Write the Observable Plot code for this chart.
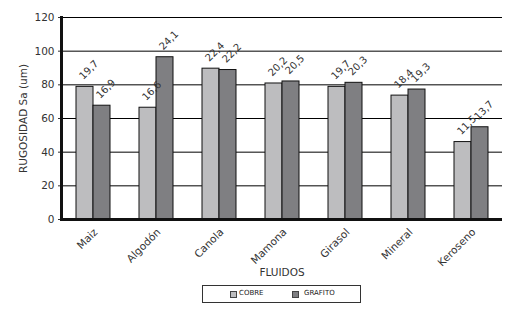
<!DOCTYPE html>
<html><head><meta charset="utf-8">
<script src="https://cdn.jsdelivr.net/npm/d3@7"></script>
<script src="https://cdn.jsdelivr.net/npm/@observablehq/plot@0.6"></script>
<style>
body{margin:0;background:#fff;}
#wrap{position:relative;width:523px;height:315px;background:#fff;}
#legend{position:absolute;left:202px;top:285px;width:157px;height:16px;border:1px solid #333;font-family:"DejaVu Sans",sans-serif;font-size:7px;color:#222;}
.sw{position:absolute;top:5px;width:5px;height:5px;border:1px solid #444;}
.lb{position:absolute;top:3px;}
</style></head>
<body><div id="wrap"></div>
<script>
const fluidos = ["Maiz","Algodón","Canola","Mamona","Girasol","Mineral","Keroseno"];
const series = ["COBRE","GRAFITO"];
const cobre = [78.8, 66.4, 89.6, 80.8, 78.8, 73.6, 46.0];
const grafito = [67.6, 96.4, 88.8, 82.0, 81.2, 77.2, 54.8];
const cobreLabels = ["19,7","16,6","22,4","20,2","19,7","18,4","11,5"];
const grafitoLabels = ["16,9","24,1","22,2","20,5","20,3","19,3","13,7"];
const yTicks = [0,20,40,60,80,100,120];
const colors = ["#bdbdbf","#7f7f82"];

const data = [];
fluidos.forEach((f,i)=>{
  data.push({fluido:f, serie:series[0], valor:cobre[i], label:cobreLabels[i]});
  data.push({fluido:f, serie:series[1], valor:grafito[i], label:grafitoLabels[i]});
});

const chart = Plot.plot({
  width:523, height:282,
  marginLeft:59, marginRight:19, marginTop:17, marginBottom:63,
  style:{fontFamily:"DejaVu Sans, sans-serif", fontSize:"10px", color:"#333", background:"white", overflow:"visible"},
  fx:{domain:fluidos, padding:0, axis:null},
  x:{domain:series, paddingInner:0, paddingOuter:0.77, axis:null},
  y:{domain:[0,120]},
  color:{domain:series, range:colors},
  marks:[
    Plot.gridY(yTicks, {stroke:"#000", strokeOpacity:1, strokeWidth:1}),
    Plot.barY(data, {fx:"fluido", x:"serie", y:"valor", fill:"serie", stroke:"#111", strokeWidth:1}),
    Plot.text(data, {fx:"fluido", x:"serie", y:"valor", text:"label", rotate:-45, textAnchor:"start", dx:-4, dy:-9, fontSize:10, fill:"#333"}),
    Plot.ruleY([0], {stroke:"#111", strokeWidth:3}),
    Plot.axisY(yTicks, {tickSize:3, tickPadding:4, fontSize:10, label:"RUGOSIDAD Sa (um)", labelArrow:"none", labelAnchor:"center", labelOffset:42, fontSize:10.5}),
    Plot.axisFx({anchor:"bottom", rotate:-45, textAnchor:"end", tickSize:0, tickPadding:8, fontSize:10.5, label:"FLUIDOS", labelArrow:"none", labelAnchor:"center", labelOffset:56}),
    Plot.frame({anchor:"left", stroke:"#111", strokeWidth:3, facetAnchor:"left"})
  ]
});
const wrap = document.getElementById("wrap");
wrap.appendChild(chart);

const lg = document.createElement("div");
lg.id = "legend";
const pos = [[27,36],[89,101]];
series.forEach((s,i)=>{
  const sw = document.createElement("div");
  sw.className = "sw"; sw.style.left = pos[i][0]+"px"; sw.style.background = colors[i];
  const t = document.createElement("div");
  t.className = "lb"; t.style.left = pos[i][1]+"px"; t.textContent = s;
  lg.appendChild(sw); lg.appendChild(t);
});
wrap.appendChild(lg);
</script></body></html>
